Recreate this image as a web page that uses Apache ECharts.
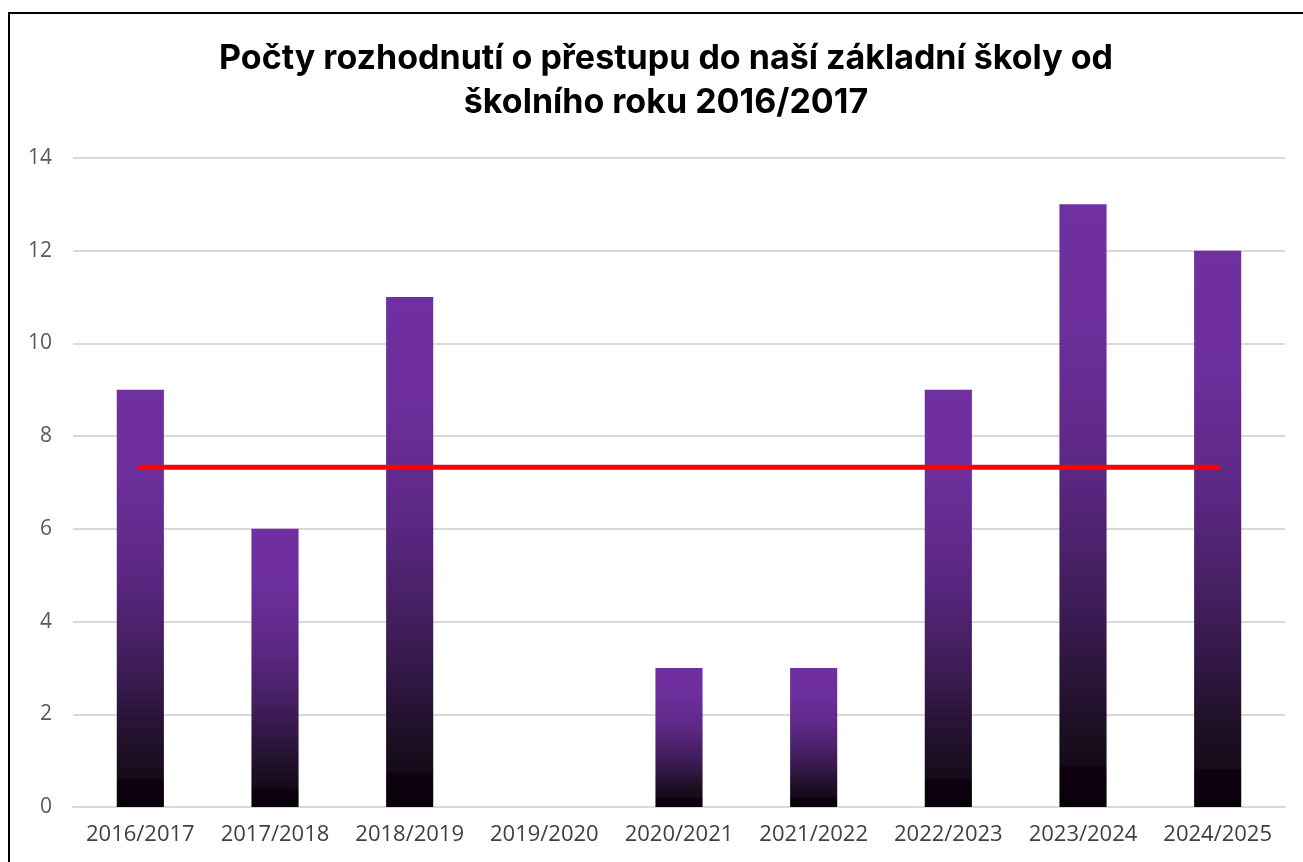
<!DOCTYPE html>
<html>
<head>
<meta charset="utf-8">
<script src="https://cdn.jsdelivr.net/npm/echarts@6/dist/echarts.min.js"></script>
<style>
html,body{margin:0;padding:0;background:#fff;overflow:hidden;}
#frame{position:absolute;left:8px;top:12px;width:1400px;height:1000px;border:2px solid #000;box-sizing:border-box;}
#chart{position:absolute;left:0;top:0;width:1303px;height:862px;}
</style>
</head>
<body>
<div id="frame"></div>
<div id="chart"></div>
<script>
const titleLines = ['Počty rozhodnutí o přestupu do naší základní školy od', 'školního roku 2016/2017'];
const categories = ['2016/2017','2017/2018','2018/2019','2019/2020','2020/2021','2021/2022','2022/2023','2023/2024','2024/2025'];
const decisions = [9, 6, 11, 0, 3, 3, 9, 13, 12];
const averageValue = 7.33;
const averageLine = categories.map(() => averageValue);
const yTicks = {min: 0, max: 14, interval: 2};

const chart = echarts.init(document.getElementById('chart'), null, {renderer: 'canvas'});
const barGradient = new echarts.graphic.LinearGradient(0, 0, 0, 1, [
  {offset: 0, color: '#7030A0'},
  {offset: 0.2, color: '#6d2f9c'},
  {offset: 0.42, color: '#5e2886'},
  {offset: 0.58, color: '#4a2168'},
  {offset: 0.72, color: '#35194a'},
  {offset: 0.85, color: '#1f1027'},
  {offset: 0.93, color: '#150b19'},
  {offset: 0.935, color: '#100010'},
  {offset: 1, color: '#08000a'}
]);
chart.setOption({
  backgroundColor: 'transparent',
  animation: false,
  title: {
    text: titleLines.join('\n'),
    left: 661,
    textAlign: 'center',
    top: 32,
    textStyle: {fontFamily: 'Inter', fontWeight: 'bold', fontSize: 34, color: '#000', lineHeight: 44}
  },
  grid: {left: 73, right: 18, top: 158, bottom: 55, containLabel: false},
  xAxis: {
    type: 'category',
    data: categories,
    boundaryGap: true,
    axisLine: {show: true, lineStyle: {color: '#d9d9d9', width: 2}},
    axisTick: {show: false},
    axisLabel: {color: '#404040', fontSize: 22, fontFamily: 'Open Sans', margin: 17, interval: 0}
  },
  yAxis: {
    type: 'value',
    min: yTicks.min, max: yTicks.max, interval: yTicks.interval,
    axisLine: {show: false},
    axisTick: {show: false},
    splitLine: {lineStyle: {color: '#d9d9d9', width: 2}},
    axisLabel: {color: '#595959', fontSize: 21, fontFamily: 'Open Sans', margin: 21}
  },
  series: [
    {
      type: 'bar',
      data: decisions,
      barWidth: '35%',
      itemStyle: {color: barGradient}
    },
    {
      type: 'line',
      data: averageLine,
      symbol: 'none',
      lineStyle: {color: '#ff0000', width: 5, cap: 'round'},
      z: 5
    }
  ]
});
</script>
</body>
</html>
